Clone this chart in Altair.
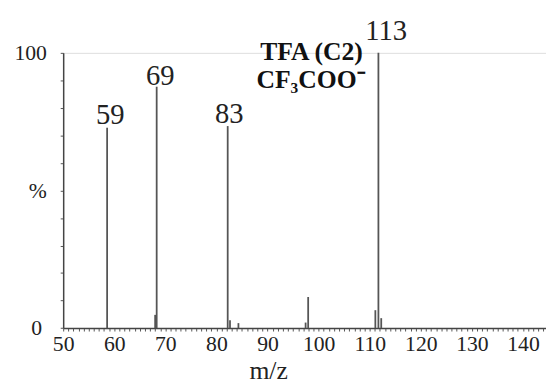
import altair as alt
import pandas as pd

# ---- data ----
peak_mz = [58.6, 68.0, 68.3, 82.2, 82.65, 84.3, 97.45, 97.95, 111.1, 111.7, 112.25]
peak_int = [72.8, 4.8, 87.7, 73.4, 2.8, 1.8, 2.0, 11.3, 6.5, 100.0, 3.6]

label_text = ["59", "69", "83", "113"]
label_mz = [59.2, 69.0, 82.5, 113.2]
label_int = [74.0, 88.5, 74.6, 104.7]

annot_text = ["TFA (C2)", "CF\u2083COO\u207b"]
annot_mz = [98.6, 98.5]
annot_int = [97.3, 87.3]

x_ticks = list(range(50, 145))
y_ticks = list(range(0, 101, 10))

peaks = pd.DataFrame({"mz": peak_mz, "intensity": peak_int})
labels = pd.DataFrame({"mz": label_mz, "intensity": label_int, "text": label_text})
annot = pd.DataFrame({"mz": annot_mz, "intensity": annot_int, "text": annot_text})

FONT = "Liberation Serif"
xscale = alt.Scale(domain=[50, 144.5], nice=False, zero=False)
yscale = alt.Scale(domain=[0, 100], nice=False)

x_axis = alt.Axis(
    values=x_ticks,
    labelExpr="datum.value % 10 === 0 ? datum.label : ''",
    title="m/z",
    titleFont=FONT, titleFontSize=26, titleFontWeight="normal", titleColor="#222",
    titleAnchor="start", titleAlign="center", titleX=208, titleY=51,
    titleBaseline="alphabetic",
    labelFont=FONT, labelFontSize=22, labelColor="#222", labelPadding=3,
    tickSize=3, tickColor="#555", tickWidth=1,
    domainColor="#444", domainWidth=1.5, grid=False, labelFlush=False,
    labelOverlap=False, labelBound=False,
)
y_axis = alt.Axis(
    values=y_ticks,
    labelExpr="datum.value === 100 ? '100' : datum.value === 50 ? '%' : datum.value === 0 ? '0' : ''",
    title=None,
    labelFont=FONT, labelFontSize=22, labelColor="#222",
    labelPadding={"condition": {"test": "datum.value === 0", "value": 19}, "value": 14},
    tickSize=3, tickColor="#555", tickWidth=1,
    domainColor="#444", domainWidth=1.5, grid=False, labelFlush=False,
    labelOverlap=False, labelBound=False,
)

X = alt.X("mz:Q", scale=xscale, axis=x_axis)
Y = alt.Y("intensity:Q", scale=yscale, axis=y_axis)

rules = alt.Chart(peaks).mark_rule(color="#555", strokeWidth=1.8).encode(
    x=X, y=Y, y2=alt.datum(0),
)

peak_labels = alt.Chart(labels).mark_text(
    font=FONT, fontSize=29, color="#222", baseline="alphabetic", align="center"
).encode(x=X, y=Y, text="text:N")

annot_labels = alt.Chart(annot).mark_text(
    font=FONT, fontSize=26, fontWeight="bold", color="#111", baseline="alphabetic", align="center"
).encode(x=X, y=Y, text="text:N")

chart = alt.layer(rules, peak_labels, annot_labels).properties(
    width=490, height=279.3,
    autosize=alt.AutoSizeParams(type="none"),
    padding={"left": 56, "top": 42.7, "right": 0, "bottom": 59},
).configure_view(strokeWidth=0).configure(background="white")

chart.save("out.html", embed_options={"renderer": "svg", "actions": False})
